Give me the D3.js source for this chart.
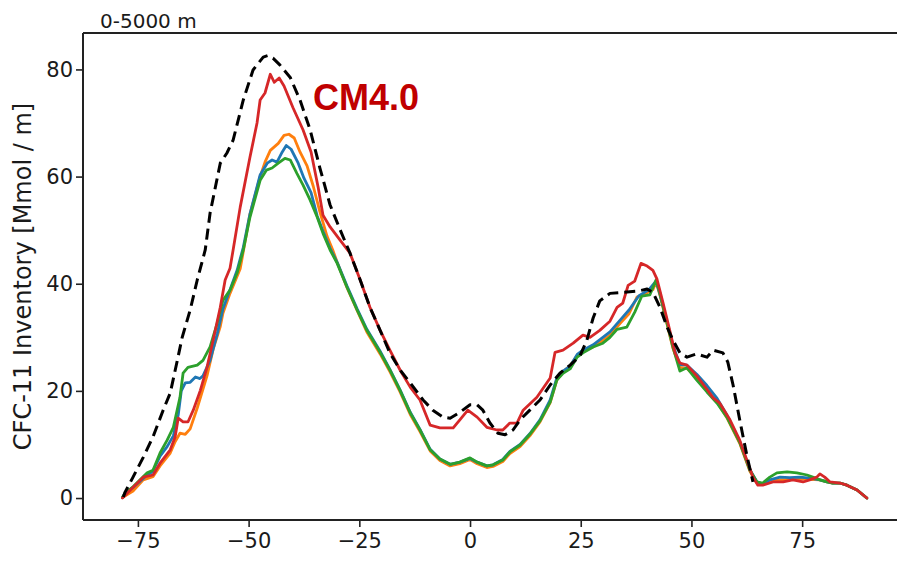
<!DOCTYPE html>
<html>
<head>
<meta charset="utf-8">
<script src="https://cdn.jsdelivr.net/npm/d3@7"></script>
<style>
  html, body { margin: 0; padding: 0; background: #ffffff; }
  svg { display: block; }
  text { font-family: "DejaVu Sans", sans-serif; fill: #1a1a1a; }
</style>
</head>
<body>
<svg id="chart" width="897" height="563"></svg>
<script>
// Zonal CFC-11 inventory, 0-5000 m, as [latitude, Mmol/m] pairs
const obsSeries = [[-78.3,0.2],[-77.9,1.1],[-76.1,3.9],[-73.8,7.6],[-71.6,11.4],[-69.3,16.4],[-67.7,19.6],[-66.1,25.7],[-65.0,30.0],[-63.2,35.1],[-61.6,40.7],[-59.8,46.3],[-58.7,53.2],[-56.4,62.5],[-54.9,64.4],[-53.5,66.8],[-51.2,74.3],[-49.0,79.9],[-46.7,82.3],[-45.6,82.6],[-44.5,82.1],[-42.9,80.8],[-40.6,78.5],[-38.4,74.3],[-36.1,68.7],[-33.9,61.6],[-31.6,54.7],[-29.3,50.0],[-27.1,45.7],[-24.8,40.7],[-22.6,35.6],[-20.3,31.3],[-18.1,27.1],[-15.8,23.9],[-13.5,21.5],[-10.6,18.3],[-8.4,16.4],[-6.1,15.1],[-4.5,14.9],[-2.3,16.0],[0,17.4],[1.6,17.4],[2.9,16.4],[4.5,14.0],[6.3,12.1],[7.9,11.8],[9.7,12.7],[11.3,14.6],[13.5,16.4],[15.8,18.3],[18.1,21.1],[20.3,23.3],[22.6,24.8],[24.8,26.5],[26.4,29.5],[27.8,33.6],[29.3,36.8],[31.6,38.2],[34.5,38.4],[37.7,38.6],[40.0,39.0],[41.3,38.4],[42.9,35.6],[44.5,31.9],[45.8,29.5],[47.4,27.1],[49.0,26.3],[51.2,26.9],[53.5,26.3],[54.9,27.6],[57.1,27.1],[58.2,25.4],[59.4,21.1],[60.9,14.6],[62.5,8.0],[63.9,3.0]];

const redSeries = [[-78.5,0.0],[-76.7,1.5],[-73.8,3.9],[-71.6,4.3],[-70.0,6.5],[-67.7,9.0],[-66.6,11.4],[-65.9,14.9],[-64.8,14.2],[-63.7,14.2],[-62.5,16.4],[-60.9,20.1],[-59.4,24.4],[-58.0,29.5],[-56.4,35.6],[-55.3,40.7],[-54.2,42.9],[-53.5,46.3],[-51.9,54.3],[-49.7,63.6],[-48.1,70.0],[-47.4,74.3],[-46.3,75.6],[-45.1,79.1],[-44.2,77.6],[-43.1,78.4],[-42.0,76.9],[-40.0,72.9],[-37.7,68.7],[-35.9,64.6],[-34.3,58.0],[-33.2,52.8],[-31.6,50.6],[-29.3,48.1],[-27.1,45.7],[-24.8,40.7],[-22.6,35.6],[-20.3,31.3],[-18.1,27.6],[-15.8,23.9],[-13.5,20.7],[-11.3,18.3],[-9.0,13.6],[-6.8,13.1],[-3.8,13.1],[-2.3,14.6],[-0.5,16.4],[1.6,15.1],[3.8,13.2],[6.1,12.7],[7.4,12.7],[9.0,14.0],[10.6,14.0],[12.0,16.4],[15.1,18.8],[18.1,22.4],[19.2,27.2],[21.0,27.6],[23.3,28.9],[25.5,30.4],[27.1,30.0],[29.3,31.3],[31.6,33.0],[33.2,35.6],[34.5,36.4],[35.7,39.7],[37.2,40.5],[38.6,43.8],[40.0,43.3],[41.3,42.5],[42.2,40.9],[43.6,36.4],[45.1,31.3],[46.3,27.1],[47.4,25.2],[49.0,24.8],[51.2,22.8],[53.5,20.3],[54.9,18.7],[56.4,17.7],[58.7,14.6],[60.9,10.8],[62.5,7.1],[63.9,3.9],[65.0,2.4],[66.1,2.4],[68.4,3.0],[70.7,3.0],[72.9,3.4],[75.2,3.0],[76.7,3.4],[78.3,3.9],[79.0,4.5],[80.1,3.9],[81.3,3.0],[83.5,2.8],[85.1,2.4],[87.4,1.5],[89.6,0.0]];

const orangeSeries = [[-78.5,0.1],[-76.1,1.3],[-73.8,3.4],[-71.6,4.0],[-70.0,6.0],[-67.7,8.4],[-66.6,10.5],[-65.5,12.1],[-64.3,11.9],[-63.2,12.9],[-61.6,16.8],[-59.4,22.8],[-58.0,27.8],[-56.4,32.0],[-55.8,34.5],[-54.2,38.2],[-51.9,42.8],[-51.2,46.0],[-49.7,53.0],[-47.4,60.0],[-46.3,62.7],[-45.1,64.9],[-43.3,66.2],[-42.0,67.7],[-40.9,67.9],[-39.7,67.2],[-38.4,64.6],[-36.8,62.0],[-35.4,58.2],[-33.9,53.4],[-32.3,48.9],[-31.0,46.3],[-30.0,44.0],[-27.8,39.3],[-25.5,35.0],[-23.3,31.0],[-20.3,26.9],[-18.1,23.6],[-15.8,19.8],[-13.5,15.6],[-11.3,12.4],[-9.0,8.8],[-6.8,7.0],[-4.5,6.0],[-2.3,6.4],[0,7.2],[1.6,6.4],[3.8,5.7],[5.2,5.9],[7.4,6.8],[9.0,8.3],[11.3,9.6],[13.5,11.6],[15.8,14.2],[18.1,17.8],[19.6,22.0],[21.0,23.6],[22.6,24.7],[24.2,26.6],[25.5,27.4],[27.8,28.2],[30.0,29.4],[31.6,30.4],[33.9,32.6],[35.9,34.4],[37.7,37.5],[40.0,38.3],[41.3,38.9],[42.0,40.4],[42.9,37.8],[44.5,32.4],[45.8,28.0],[47.4,24.4],[49.0,24.2],[51.2,22.4],[53.5,20.2],[55.8,17.9],[58.0,15.0],[60.9,10.2],[63.2,5.0],[64.8,2.8],[66.1,2.5],[67.7,3.1],[70.0,3.4],[72.2,3.5],[74.5,3.6],[76.7,3.5],[79.0,3.4],[80.6,3.0],[81.9,2.8],[83.5,2.8],[85.1,2.4],[87.4,1.5],[89.6,0.0]];

const blueSeries = [[-78.5,0.1],[-77.9,0.9],[-76.1,2.0],[-72.9,4.3],[-71.6,5.0],[-70.0,7.8],[-68.4,9.6],[-67.0,11.6],[-65.9,15.5],[-65.2,20.0],[-64.3,21.5],[-63.2,21.6],[-62.0,22.6],[-61.0,22.3],[-60.3,22.8],[-58.7,25.7],[-57.1,30.6],[-55.8,35.3],[-54.2,38.9],[-52.6,42.5],[-51.2,46.8],[-49.7,53.0],[-47.4,60.3],[-45.8,62.5],[-44.7,63.1],[-43.6,62.7],[-42.4,64.6],[-41.5,65.8],[-40.4,65.1],[-38.8,62.5],[-37.5,59.7],[-35.9,57.0],[-34.5,52.6],[-33.2,49.8],[-31.6,46.6],[-30.0,44.0],[-27.8,39.6],[-25.5,35.3],[-23.3,31.5],[-20.3,27.4],[-18.1,24.0],[-15.8,20.2],[-13.5,16.0],[-11.3,12.8],[-9.0,9.1],[-6.8,7.3],[-4.5,6.3],[-2.3,6.7],[0,7.4],[1.6,6.7],[3.8,6.0],[5.2,6.2],[7.4,7.2],[9.0,8.7],[11.3,10.0],[13.5,12.0],[15.8,14.6],[18.1,18.3],[19.6,22.4],[21.0,23.7],[22.6,24.6],[24.2,26.8],[25.5,27.6],[27.8,28.6],[30.0,30.0],[31.6,31.0],[33.9,33.2],[35.9,35.1],[38.1,37.7],[40.4,38.9],[42.0,40.5],[42.9,38.0],[44.5,32.9],[45.8,28.6],[47.4,24.9],[49.0,24.8],[51.2,23.1],[53.5,21.0],[55.8,18.6],[58.0,15.5],[60.9,10.6],[63.2,5.3],[64.8,3.0],[66.1,2.6],[67.7,3.4],[70.0,3.9],[72.2,3.8],[74.5,3.9],[76.7,3.7],[79.0,3.4],[80.6,3.0],[81.9,2.8],[83.5,2.8],[85.1,2.4],[87.4,1.5],[89.6,0.0]];

const greenSeries = [[-78.5,0.1],[-77.9,0.9],[-76.1,2.1],[-72.9,4.7],[-71.6,5.2],[-70.0,8.4],[-68.4,10.8],[-67.0,13.2],[-65.5,18.8],[-64.8,23.3],[-63.7,24.4],[-61.6,24.8],[-60.3,25.7],[-58.7,28.2],[-57.1,32.6],[-55.8,36.9],[-54.2,38.8],[-52.6,42.0],[-51.2,46.3],[-49.7,52.4],[-47.4,59.3],[-46.0,61.2],[-44.7,61.6],[-43.3,62.5],[-41.8,63.4],[-40.6,63.1],[-39.1,60.6],[-37.7,58.4],[-36.1,55.6],[-34.5,52.4],[-33.2,49.4],[-31.6,46.3],[-30.0,43.8],[-27.8,39.4],[-25.5,35.1],[-23.3,31.3],[-20.3,27.2],[-18.1,23.9],[-15.8,20.1],[-13.5,15.9],[-11.3,12.7],[-9.0,9.0],[-6.8,7.3],[-4.5,6.3],[-2.3,6.7],[0,7.5],[1.6,6.7],[3.8,6.0],[5.2,6.2],[7.4,7.1],[9.0,8.6],[11.3,9.9],[13.5,11.9],[15.8,14.4],[18.1,17.9],[19.6,22.0],[21.0,23.3],[22.6,24.1],[24.2,26.3],[25.5,27.1],[27.8,28.2],[30.0,28.9],[31.6,30.0],[33.2,31.5],[35.4,31.9],[37.2,34.7],[38.8,37.7],[40.6,37.9],[42.0,40.7],[42.9,38.2],[44.5,32.6],[45.8,28.2],[47.4,23.7],[49.0,24.3],[51.2,22.0],[53.5,19.8],[55.8,17.7],[58.0,15.1],[60.9,10.4],[63.2,5.2],[64.8,3.0],[66.1,2.8],[67.7,3.9],[69.3,4.7],[71.6,4.9],[73.8,4.7],[76.1,4.3],[77.4,3.9],[79.0,3.4],[80.6,3.0],[81.9,2.8],[83.5,2.8],[85.1,2.4],[87.4,1.5],[89.6,0.0]];

const xTicks = [-75, -50, -25, 0, 25, 50, 75];
const yTicks = [0, 20, 40, 60, 80];
const titleText = "0-5000 m";
const modelLabel = "CM4.0";
const yAxisLabel = "CFC-11 Inventory [Mmol / m]";

const svg = d3.select("#chart");
const plot = { left: 83, top: 33, right: 904, bottom: 520 };

const x = d3.scaleLinear().domain([-87.4, 98.0]).range([plot.left, plot.right]);
const y = d3.scaleLinear().domain([-4.1, 86.8]).range([plot.bottom, plot.top]);

const line = d3.line().x(d => x(d[0])).y(d => y(d[1]));

// model runs drawn under the observational estimate
const runs = [
  { data: orangeSeries, color: "#ff7f0e" },
  { data: blueSeries, color: "#1f77b4" },
  { data: greenSeries, color: "#2ca02c" },
  { data: redSeries, color: "#d62728" }
];

const lines = svg.append("g");
runs.forEach(r => {
  lines.append("path")
    .attr("d", line(r.data))
    .attr("fill", "none")
    .attr("stroke", r.color)
    .attr("stroke-width", 2.8)
    .attr("stroke-linejoin", "round")
    .attr("stroke-linecap", "round");
});
lines.append("path")
  .attr("d", line(obsSeries))
  .attr("fill", "none")
  .attr("stroke", "#000")
  .attr("stroke-width", 3)
  .attr("stroke-dasharray", "11,6")
  .attr("stroke-linejoin", "round");

// axes
const fmt = d => (d < 0 ? "\u2212" + Math.abs(d) : String(d));
const xAxis = d3.axisBottom(x).tickValues(xTicks).tickFormat(fmt).tickSize(7).tickPadding(6);
const yAxis = d3.axisLeft(y).tickValues(yTicks).tickFormat(fmt).tickSize(7).tickPadding(3);

const gx = svg.append("g").attr("transform", `translate(0,${plot.bottom})`).call(xAxis);
const gy = svg.append("g").attr("transform", `translate(${plot.left},0)`).call(yAxis);
[gx, gy].forEach(g => {
  g.select(".domain").remove();
  g.selectAll(".tick line").attr("stroke", "#222").attr("stroke-width", 1.6);
  g.selectAll(".tick text")
    .attr("fill", "#1a1a1a")
    .style("font-family", "'DejaVu Sans', sans-serif")
    .style("font-size", "21px");
});

// frame: left, bottom and top edges
const frame = svg.append("g").attr("stroke", "#222").attr("stroke-width", 2).attr("fill", "none");
frame.append("line").attr("x1", plot.left).attr("x2", plot.left).attr("y1", plot.top).attr("y2", plot.bottom);
frame.append("line").attr("x1", plot.left).attr("x2", plot.right).attr("y1", plot.bottom).attr("y2", plot.bottom);
frame.append("line").attr("x1", plot.left).attr("x2", plot.right).attr("y1", plot.top).attr("y2", plot.top);
frame.append("line").attr("x1", plot.right).attr("x2", plot.right).attr("y1", plot.top).attr("y2", plot.bottom);

// title, label and model name
svg.append("text")
  .attr("x", 100).attr("y", 28)
  .style("font-size", "20px")
  .text(titleText);

svg.append("text")
  .attr("transform", `translate(31,${(plot.top + plot.bottom) / 2}) rotate(-90)`)
  .attr("text-anchor", "middle")
  .style("font-size", "24px")
  .text(yAxisLabel);

svg.append("text")
  .attr("x", 313).attr("y", 110)
  .style("font-family", "'Liberation Sans', Arial, sans-serif")
  .style("font-weight", "bold")
  .style("font-size", "36px")
  .style("fill", "#c00000")
  .text(modelLabel);
</script>
</body>
</html>
